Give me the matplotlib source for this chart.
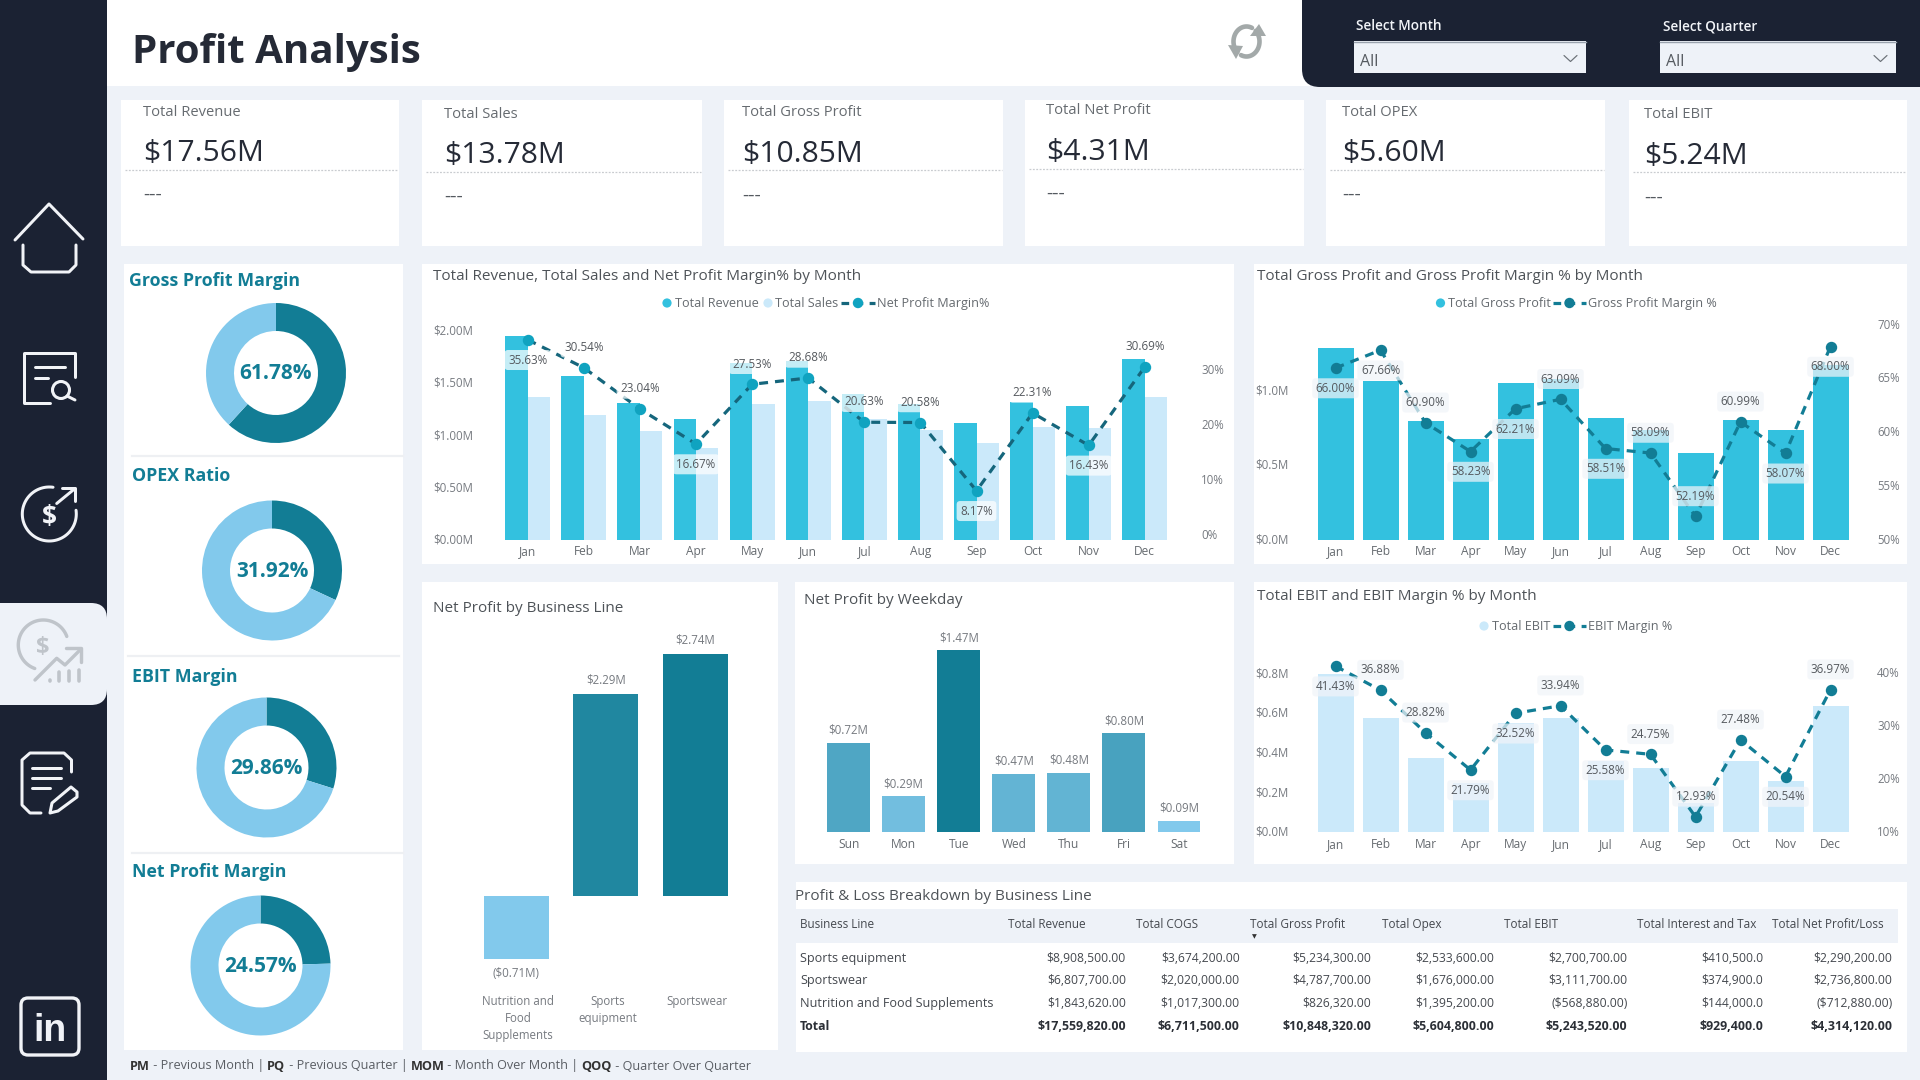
import numpy as np
import matplotlib
matplotlib.use("Agg")
import matplotlib.pyplot as plt
from matplotlib.colors import LinearSegmentedColormap, Normalize
from matplotlib.patches import FancyBboxPatch, Rectangle, Circle, Polygon

plt.rcParams["font.family"] = ["Open Sans", "DejaVu Sans"]

# ---------------------------------------------------------------- data
MONTHS = ["Jan", "Feb", "Mar", "Apr", "May", "Jun", "Jul", "Aug", "Sep", "Oct", "Nov", "Dec"]
REVENUE = [1.95, 1.57, 1.315, 1.16, 1.69, 1.71, 1.40, 1.30, 1.12, 1.32, 1.28, 1.73]
SALES = [1.37, 1.20, 1.045, 0.885, 1.30, 1.33, 1.16, 1.05, 0.93, 1.08, 1.07, 1.37]
NET_MARGIN = [35.63, 30.54, 23.04, 16.67, 27.53, 28.68, 20.63, 20.58, 8.17, 22.31, 16.43, 30.69]
NET_SIDE = [-1, 1, 1, -1, 1, 1, 1, 1, -1, 1, -1, 1]

GROSS_PROFIT = [1.287, 1.062, 0.80, 0.675, 1.05, 1.08, 0.817, 0.74, 0.583, 0.806, 0.739, 1.174]
GROSS_MARGIN = [66.00, 67.66, 60.90, 58.23, 62.21, 63.09, 58.51, 58.09, 52.19, 60.99, 58.07, 68.00]
GROSS_SIDE = [-1, -1, 1, -1, -1, 1, -1, 1, 1, 1, -1, -1]

EBIT = [0.80, 0.575, 0.376, 0.25, 0.55, 0.578, 0.358, 0.323, 0.146, 0.361, 0.26, 0.637]
EBIT_MARGIN = [41.43, 36.88, 28.82, 21.79, 32.52, 33.94, 25.58, 24.75, 12.93, 27.48, 20.54, 36.97]
EBIT_SIDE = [-1, 1, 1, -1, -1, 1, -1, 1, 1, 1, -1, 1]

LINES = ["Nutrition and\nFood\nSupplements", "Sports\nequipment", "Sportswear"]
LINE_PROFIT = [-0.71, 2.29, 2.74]

WEEKDAYS = ["Sun", "Mon", "Tue", "Wed", "Thu", "Fri", "Sat"]
WEEKDAY_PROFIT = [0.72, 0.29, 1.47, 0.47, 0.48, 0.80, 0.09]

KPI_NAMES = ["Total Revenue", "Total Sales", "Total Gross Profit", "Total Net Profit", "Total OPEX", "Total EBIT"]
KPI_VALUES = ["$17.56M", "$13.78M", "$10.85M", "$4.31M", "$5.60M", "$5.24M"]

RATIO_NAMES = ["Gross Profit Margin", "OPEX Ratio", "EBIT Margin", "Net Profit Margin"]
RATIO_VALUES = [61.78, 31.92, 29.86, 24.57]

TABLE_HEAD = ["Business Line", "Total Revenue", "Total COGS", "Total Gross Profit", "Total Opex",
              "Total EBIT", "Total Interest and Tax", "Total Net Profit/Loss"]
TABLE_ROWS = ["Sports equipment", "Sportswear", "Nutrition and Food Supplements", "Total"]
T_REVENUE = [8908500, 6807700, 1843620, 17559820]
T_COGS = [3674200, 2020000, 1017300, 6711500]
T_GROSS = [5234300, 4787700, 826320, 10848320]
T_OPEX = [2533600, 1676000, 1395200, 5604800]
T_EBIT = [2700700, 3111700, -568880, 5243520]
T_INTEREST = [410500, 374900, 144000, 929400]
T_NET = [2290200, 2736800, -712880, 4314120]

# ---------------------------------------------------------------- palette
W, H = 1920, 1080
PAGE = "#EEF2F8"
NAVY = "#1B2233"
TEAL = "#127D95"
CYAN = "#33C1DF"
PALE = "#CBE9FA"
SKY = "#82C9EC"
INK = "#252A36"
GREY = "#666B70"
AXIS_GREY = "#767A80"
ICON = "#F1F3F7"
HEADING = 10.95
LEGEND = 9.1

fig = plt.figure(figsize=(W / 100, H / 100), dpi=100, facecolor=PAGE)

# Full-page canvas in pixel units (y grows downward) for cards, text and icons.
page = fig.add_axes([0, 0, 1, 1], zorder=0)
page.set_xlim(0, W)
page.set_ylim(H, 0)
page.axis("off")


def label(x, y, s, size=8.2, color=GREY, ha="left", va="center_baseline", weight="normal", **kw):
    return page.text(x, y, s, fontsize=size, color=color, ha=ha, va=va, fontweight=weight, **kw)


def card(x0, y0, x1, y1, color="white"):
    page.add_patch(Rectangle((x0, y0), x1 - x0, y1 - y0, fc=color, ec="none"))


def rounded(x0, y0, x1, y1, r, color, ec="none", lw=0, **kw):
    page.add_patch(FancyBboxPatch((x0 + r, y0 + r), x1 - x0 - 2 * r, y1 - y0 - 2 * r,
                                  boxstyle=f"round,pad={r},rounding_size={r}",
                                  fc=color, ec=ec, lw=lw, **kw))


def stroke(xs, ys, color=ICON, px=3.0, **kw):
    page.plot(xs, ys, color=color, lw=px * 0.72, solid_capstyle="round",
              solid_joinstyle="round", **kw)


def arc(cx, cy, rx, ry, a0, a1, color=ICON, px=3.0):
    t = np.radians(np.linspace(a0, a1, 90))
    stroke(cx + rx * np.cos(t), cy - ry * np.sin(t), color, px)


# ---------------------------------------------------------------- page furniture
rounded(-40, -40, 107, H + 40, 22, NAVY)
rounded(-40, 603, 107, 705, 16, PAGE)
card(107, 0, 1310, 86)
rounded(1302, -40, W + 40, 87, 18, NAVY)
label(132, 48, "Profit Analysis", size=29, color=INK, weight="bold")

# Slicers
for name, x0, x1, tx in [("Select Month", 1354, 1586, 1356), ("Select Quarter", 1660, 1896, 1663)]:
    label(tx, 25, name, size=9.8, color="#F2F4F8", weight="semibold")
    card(x0, 41, x1, 73, PAGE)
    page.plot([x0, x1], [41.5, 41.5], color="#9AA3AE", lw=1)
    label(x0 + 6, 60, "All", size=11.5, color="#555A60")
    stroke([x1 - 22, x1 - 15.5, x1 - 9], [55.5, 61.5, 55.5], "#6B7178", 1.2)

# Refresh glyph
REFRESH = "#A3A9A9"
arc(1246.5, 41.5, 13, 15, 65, 225, REFRESH, 4.6)
arc(1246.5, 41.5, 13, 15, 245, 405, REFRESH, 4.6)
page.add_patch(Polygon([[1228, 45], [1243, 46], [1236, 59]], fc=REFRESH, ec="none"))
page.add_patch(Polygon([[1250, 36], [1266, 36], [1259, 24]], fc=REFRESH, ec="none"))

# Navigation: home
stroke([15, 49, 83], [240, 204, 239])
stroke([23, 23, 31, 69, 76, 76], [245, 265, 272, 272, 265, 245])
# Navigation: report search
stroke([75, 75, 24, 24, 50], [377, 353, 353, 403, 403])
stroke([35, 65], [367, 367])
stroke([35, 48], [377.5, 377.5])
page.add_patch(Circle((61, 390), 8.5, fc="none", ec=ICON, lw=2.2))
stroke([67, 75], [396, 400])
# Navigation: revenue growth
arc(49.3, 514, 27, 27, 82, 368)
stroke([56.7, 75], [503.5, 488.5])
stroke([62, 75, 75], [488, 488, 501])
label(49.5, 515, "$", size=19, color=ICON, ha="center", weight="bold")
# Navigation: profit analysis (current page)
MUTED = "#BFC4CA"
arc(43.3, 645, 25, 25, 20, 250, MUTED, 3.4)
label(43, 645, "$", size=17, color=MUTED, ha="center", weight="bold")
stroke([35, 56.7, 65, 80], [680, 658.3, 665, 650], MUTED, 3.4)
stroke([66, 81, 81], [648, 648, 662], MUTED, 3.4)
for bx, by in [(50, 680), (59.3, 672), (69.3, 671), (79.3, 670)]:
    stroke([bx, bx], [by, 681], MUTED, 3.6)
# Navigation: notes
stroke([71.5, 71.5, 64, 30, 22, 22, 30, 41], [772, 760, 753, 753, 760, 805, 813, 813])
stroke([32, 61], [768, 768])
stroke([32, 61], [778, 778])
stroke([32, 50], [788, 788])
page.add_patch(Polygon([[50, 813], [52, 803], [71, 787], [77, 792], [77, 797], [58, 811]],
                       fc="none", ec=ICON, lw=2.2, joinstyle="round"))
# Navigation: LinkedIn
rounded(21, 998, 79, 1055, 7, "none", ec=ICON, lw=2.4)
label(50, 1027, "in", size=27, color=ICON, ha="center", weight="bold",
      family=["Liberation Sans"])

# ---------------------------------------------------------------- KPI cards
KPI_BOX = [(121, 399), (422, 702), (724, 1003), (1025, 1304), (1326, 1605), (1629, 1907)]
KPI_X = [143, 444.5, 742.5, 1046, 1342, 1644]
KPI_Y = [110, 112, 110.5, 109, 110, 112.7]
for (x0, x1), tx, ty, name, value in zip(KPI_BOX, KPI_X, KPI_Y, KPI_NAMES, KPI_VALUES):
    card(x0, 100, x1, 246)
    label(tx, ty, name, size=10.6, color=GREY)
    label(tx, ty + 40, value, size=21.6, color=INK)
    page.plot([x0 + 4, x1 - 1], [ty + 59.5] * 2, color="#C9CCD0", lw=0.9, ls=(0, (1.5, 1.2)))
    label(tx, ty + 85, "---", size=14, color="#555A60", va="center")

# ---------------------------------------------------------------- ratio donuts
card(124, 264, 403, 1050)
for x0, x1, y in [(132, 403, 456), (128, 399, 656), (132, 403, 853)]:
    page.plot([x0, x1], [y, y], color="#EEF0F3", lw=1.6)

DONUT_CENTRES = [(276, 373), (272, 570.5), (266.5, 767.5), (260.5, 965.5)]
TITLE_XY = [(129, 279), (132, 474), (132, 675), (132, 870)]
for (cx, cy), (tx, ty), name, value in zip(DONUT_CENTRES, TITLE_XY, RATIO_NAMES, RATIO_VALUES):
    label(tx, ty, name, size=12.75, color=TEAL, weight="bold")
    r = 70
    ax = fig.add_axes([(cx - r) / W, 1 - (cy + r) / H, 2 * r / W, 2 * r / H], zorder=1)
    ax.pie([value, 100 - value], colors=[TEAL, SKY], startangle=90, counterclock=False,
           radius=1, wedgeprops=dict(width=0.4, linewidth=0))
    ax.set_xlim(-1, 1)
    ax.set_ylim(-1, 1)
    ax.text(0, 0.025, f"{value:.2f}%", ha="center", va="center_baseline", fontsize=15,
            fontweight="bold", color=TEAL)

# ---------------------------------------------------------------- chart helpers
def place(left, right, top, bottom):
    ax = fig.add_axes([left / W, 1 - bottom / H, (right - left) / W, (bottom - top) / H], zorder=2)
    ax.patch.set_alpha(0)
    for s in ax.spines.values():
        s.set_visible(False)
    return ax


def combo_axes(left, right, top, bottom, first, step, m_per_px, pct_anchor, pct_per_px,
               yticks, yfmt, pct_ticks, y_pad, pct_pad):
    """Category axes with a money scale on the left and a percent scale on the right."""
    ax = place(left, right, top, bottom)
    ax.set_xlim((left - first) / step, (right - first) / step)
    ax.set_ylim(0, (bottom - top) * m_per_px)
    ax.set_yticks(yticks, [yfmt.format(v) for v in yticks])
    ax.set_xticks(range(12), MONTHS)
    ax.tick_params(axis="both", length=0, colors=AXIS_GREY, labelsize=8.3)
    ax.tick_params(axis="y", pad=y_pad * 0.72)
    ax.tick_params(axis="x", pad=3.8, colors=GREY, labelsize=8.6)
    plt.setp(ax.get_yticklabels(), va="center")
    tw = ax.twinx()
    tw.patch.set_alpha(0)
    for s in tw.spines.values():
        s.set_visible(False)
    p0, py0 = pct_anchor
    tw.set_ylim(p0 - (bottom - py0) * pct_per_px, p0 + (py0 - top) * pct_per_px)
    tw.set_yticks(pct_ticks, [f"{v}%" for v in pct_ticks])
    tw.tick_params(axis="y", length=0, labelcolor=AXIS_GREY, labelsize=8.3, pad=pct_pad * 0.72)
    plt.setp(tw.get_yticklabels(), va="center")
    return ax, tw


def margin_line(tw, values, sides, line_color, dot_color, box_color):
    xs = range(len(values))
    tw.plot(xs, values, color=line_color, lw=2.3, ls=(0, (2.8, 2.2)), zorder=3)
    tw.plot(xs, values, ls="none", marker="o", ms=7.2, mfc=dot_color, mec=dot_color, zorder=4)
    for x, v, side in zip(xs, values, sides):
        tw.annotate(f"{v:.2f}%", (x, v), xytext=(0, side * 14.6), textcoords="offset points",
                    ha="center", va="center", fontsize=8.4, color="#55595E", zorder=5,
                    bbox=dict(boxstyle="round,pad=0.3", fc=box_color, ec="none", alpha=0.72))


def legend_dot(x, y, color):
    page.add_patch(Circle((x, y), 4.6, fc=color, ec="none"))


def legend_line(x0, x1, y, line_color, dot_color):
    page.plot([x0, x1], [y, y], color=line_color, lw=2.3, ls=(0, (2.4, 2.0)))
    page.add_patch(Circle(((x0 + x1) / 2, y), 5.2, fc=dot_color, ec="none", zorder=3))


# ---------------------------------------------------------------- revenue, sales, net margin
card(422, 264, 1234, 564)
label(433, 274, "Total Revenue, Total Sales and Net Profit Margin% by Month", size=HEADING, color="#4E5358")
legend_dot(667, 303, CYAN)
label(675, 302, "Total Revenue", size=LEGEND)
legend_dot(768, 303, PALE)
label(775, 302, "Total Sales", size=LEGEND)
legend_line(841, 875, 303, "#15667C", "#10A3C0")
label(877, 302, "Net Profit Margin%", size=LEGEND)

ax1, tw1 = combo_axes(500, 1173, 320, 540, 527.7, 56.1, 1 / 104.5, (0, 535.7), 1 / 5.5,
                      [0, 0.5, 1.0, 1.5, 2.0], "${:.2f}M", [0, 10, 20, 30], 27, 28)
idx = np.arange(12)
ax1.bar(idx - 0.2, REVENUE, 0.4, color=CYAN)
ax1.bar(idx + 0.2, SALES, 0.4, color=PALE)
margin_line(tw1, NET_MARGIN, NET_SIDE, "#15667C", "#10A3C0", "white")

# ---------------------------------------------------------------- gross profit
card(1254, 264, 1907, 564)
label(1257, 274, "Total Gross Profit and Gross Profit Margin % by Month", size=HEADING, color="#4E5358")
legend_dot(1440.5, 303, CYAN)
label(1448, 302, "Total Gross Profit", size=LEGEND)
legend_line(1553, 1586, 303, TEAL, TEAL)
label(1588, 302, "Gross Profit Margin %", size=LEGEND)

ax2, tw2 = combo_axes(1314, 1852, 320, 540, 1335.5, 45.0, 1 / 149.3, (50, 540), 1 / 10.75,
                      [0, 0.5, 1.0], "${:.1f}M", [50, 55, 60, 65, 70], 25, 25)
ax2.bar(idx, GROSS_PROFIT, 0.8, color=CYAN)
margin_line(tw2, GROSS_MARGIN, GROSS_SIDE, TEAL, TEAL, "#F1F4F9")

# ---------------------------------------------------------------- EBIT
card(1254, 582, 1907, 864)
label(1257, 595, "Total EBIT and EBIT Margin % by Month", size=HEADING, color="#4E5358")
legend_dot(1484, 626, PALE)
label(1492, 625, "Total EBIT", size=LEGEND)
legend_line(1553, 1586, 626, TEAL, TEAL)
label(1588, 625, "EBIT Margin %", size=LEGEND)

ax3, tw3 = combo_axes(1314, 1852, 640, 832.3, 1335.5, 45.0, 1 / 198.3, (10, 832.3), 1 / 5.287,
                      [0, 0.2, 0.4, 0.6, 0.8], "${:.1f}M", [10, 20, 30, 40], 25, 25)
ax3.bar(idx, EBIT, 0.8, color=PALE)
margin_line(tw3, EBIT_MARGIN, EBIT_SIDE, TEAL, TEAL, "#F1F4F9")

# ---------------------------------------------------------------- conditional-colour bars
ramp = LinearSegmentedColormap.from_list("profit", [SKY, TEAL])


def money(v):
    return f"(${abs(v):.2f}M)" if v < 0 else f"${v:.2f}M"


card(422, 582, 778, 1050)
label(433, 607, "Net Profit by Business Line", size=HEADING, color="#4E5358")
ax4 = place(462, 750, 625, 985)
ax4.set_xlim((462 - 516.3) / 89.6, (750 - 516.3) / 89.6)
ax4.set_ylim(-(985 - 896.3) / 88.4, (896.3 - 625) / 88.4)
norm4 = Normalize(min(LINE_PROFIT), max(LINE_PROFIT))
bars4 = ax4.bar(range(3), LINE_PROFIT, 0.725, color=[ramp(norm4(v)) for v in LINE_PROFIT])
ax4.bar_label(bars4, labels=[money(v) for v in LINE_PROFIT], padding=5.5, fontsize=8.3, color=AXIS_GREY)
ax4.set_xticks([])
ax4.set_yticks([])
for x, name in zip([518, 608, 697], LINES):
    label(x, 995, name, size=8.3, color=AXIS_GREY, ha="center", va="top", linespacing=1.42)

card(795, 582, 1234, 864)
label(804, 599, "Net Profit by Weekday", size=HEADING, color="#4E5358")
ax5 = place(810, 1220, 625, 832.3)
ax5.set_xlim((810 - 848.6) / 55.07, (1220 - 848.6) / 55.07)
ax5.set_ylim(0, (832.3 - 625) / 123.8)
norm5 = Normalize(min(WEEKDAY_PROFIT), max(WEEKDAY_PROFIT))
bars5 = ax5.bar(range(7), WEEKDAY_PROFIT, 0.78, color=[ramp(norm5(v)) for v in WEEKDAY_PROFIT])
ax5.bar_label(bars5, labels=[money(v) for v in WEEKDAY_PROFIT], padding=4.5, fontsize=8.3, color=AXIS_GREY)
ax5.set_xticks(range(7), WEEKDAYS)
ax5.set_yticks([])
ax5.tick_params(axis="x", length=0, labelcolor=GREY, labelsize=8.6, pad=3.8)

# ---------------------------------------------------------------- P&L table
card(796, 882, 1907, 1052)
label(795, 895, "Profit & Loss Breakdown by Business Line", size=HEADING, color="#4E5358")
card(796, 909, 1898, 943, PAGE)

HEAD_X = [800, 1007.6, 1136, 1250, 1381.7, 1503.5, 1636.8, 1772]
for x, head in zip(HEAD_X, TABLE_HEAD):
    label(x, 923, head, size=8.5, color="#44484E")
label(1254.8, 936, "\u25bc", size=4.5, color="#333333", ha="center", family=["DejaVu Sans"])


def cell(v, decimals):
    text = f"{abs(v):,.{decimals}f}"
    return f"(${text})" if v < 0 else f"${text}"


COLUMNS = [(T_REVENUE, 2, 1125.8), (T_COGS, 2, 1239.7), (T_GROSS, 2, 1370.9), (T_OPEX, 2, 1494),
           (T_EBIT, 2, 1627.4), (T_INTEREST, 1, 1763), (T_NET, 2, 1892.6)]
ROW_Y = [956.7, 979, 1001.7, 1025.5]
for r, (name, y) in enumerate(zip(TABLE_ROWS, ROW_Y)):
    last = r == len(TABLE_ROWS) - 1
    style = dict(size=8.9 if last else 8.7, color="#2B2F36" if last else "#44484E",
                 weight="bold" if last else "normal")
    label(800, y, name, **dict(style, size=9.1 if not last else 8.9))
    for values, decimals, right in COLUMNS:
        label(right, y, cell(values[r], decimals), ha="right", **style)

# ---------------------------------------------------------------- footer key
FOOTER = [("PM", True), (" - Previous Month | ", False), ("PQ", True), (" - Previous Quarter | ", False),
          ("MOM", True), (" - Month Over Month | ", False), ("QOQ", True), (" - Quarter Over Quarter", False)]
renderer = fig.canvas.get_renderer()
x_cursor = 130.0
for piece, bold in FOOTER:
    t = label(x_cursor, 1064.5, piece.replace(" ", "\u00a0"), size=9.05, color="#333333" if bold else "#5A5E64",
              weight="bold" if bold else "normal")
    x_cursor += t.get_window_extent(renderer).width

fig.savefig("out.png", dpi=100, facecolor=fig.get_facecolor())
